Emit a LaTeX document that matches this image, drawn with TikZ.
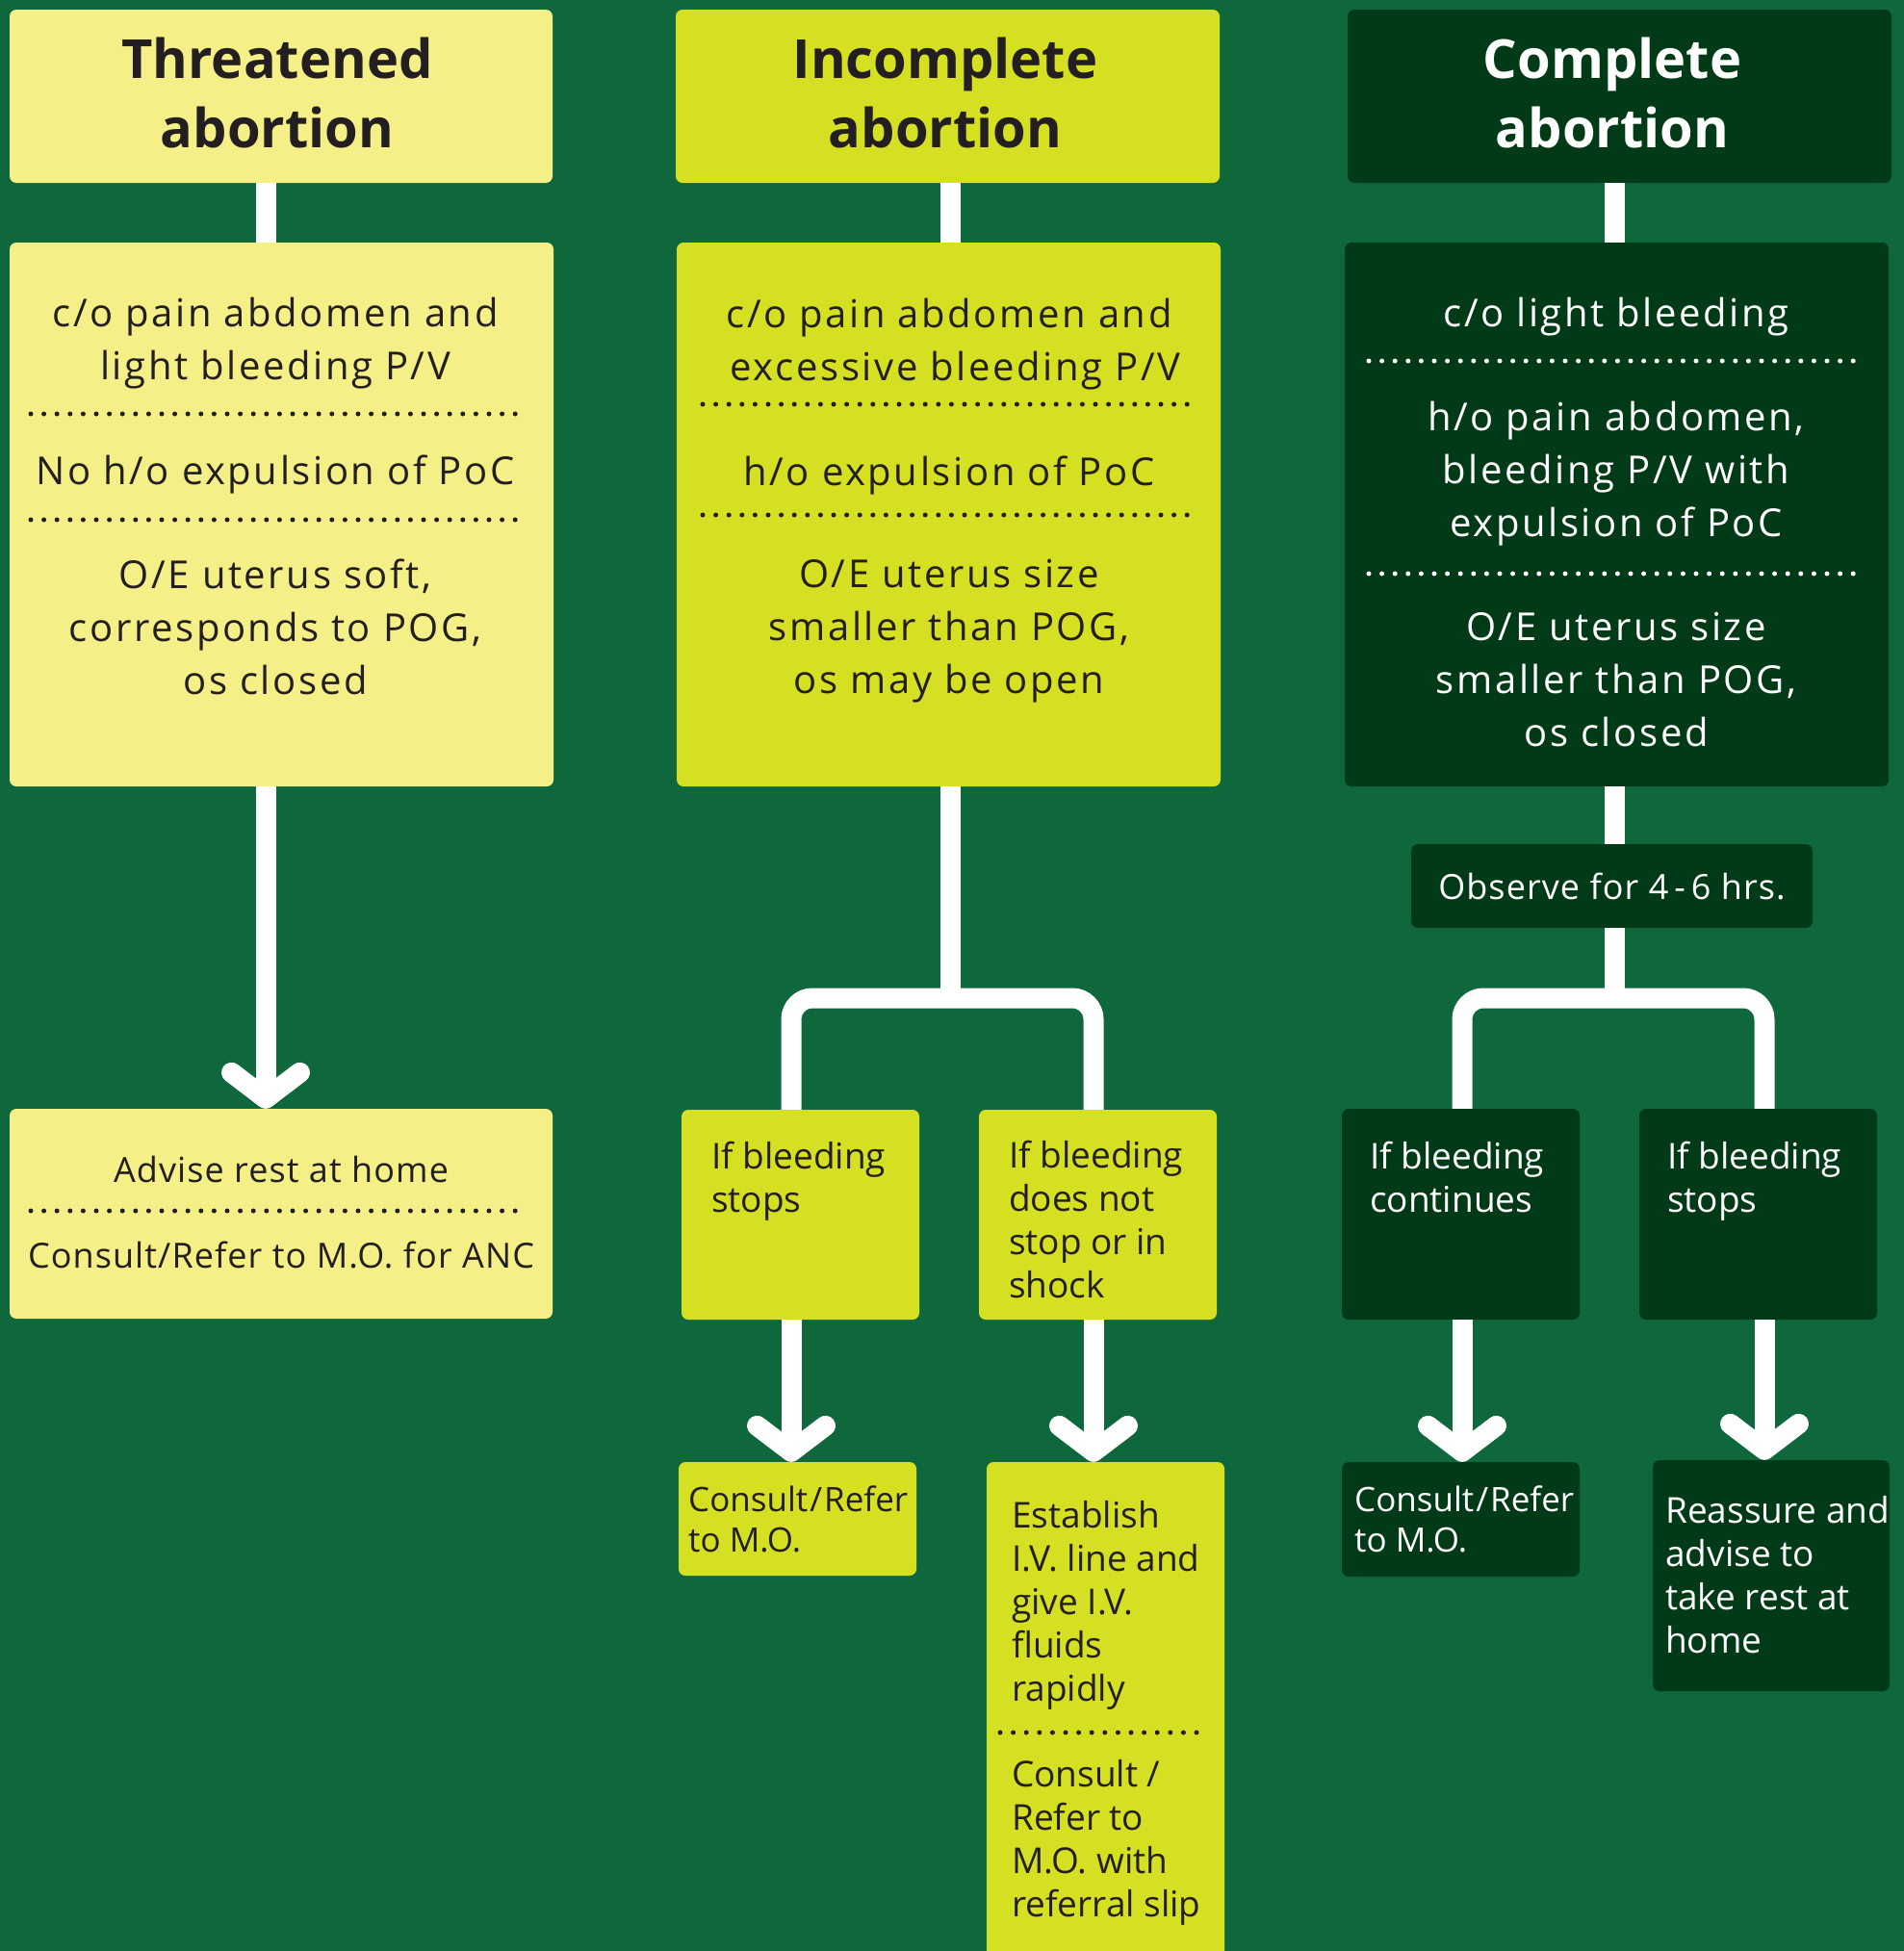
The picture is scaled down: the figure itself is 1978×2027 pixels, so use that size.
\documentclass[tikz,border=0pt]{standalone}
\usepackage{fontspec}
\setmainfont{Open Sans}
\newfontfamily\trackedfont[LetterSpace=6.5]{Open Sans}
\newfontfamily\slighttrack[LetterSpace=3]{Open Sans}
\usetikzlibrary{arrows.meta}

\definecolor{bggreen}{RGB}{15,103,60}
\definecolor{paleyellow}{RGB}{244,239,134}
\definecolor{lime}{RGB}{214,224,34}
\definecolor{darkgreen}{RGB}{0,58,22}
\definecolor{ink}{RGB}{35,31,32}

\tikzset{
  panel/.style={fill=#1, rounded corners=7pt, inner sep=0pt},
  headtext/.style={font=\bfseries\fontsize{56}{72}\selectfont, align=center},
  bodytext/.style={font=\trackedfont\fontsize{40}{55}\selectfont, align=center, anchor=base, inner sep=0pt},
  smalltext/.style={font=\fontsize{37}{45}\selectfont, align=left, anchor=base west, inner sep=0pt},
  link/.style={draw=white, line width=21pt},
  arrowlink/.style={link, -{Straight Barb[round, length=27pt, width=71pt]}},
  dotrule/.style={line width=5pt, line cap=round, dash pattern=on 0pt off 13.6pt},
}

\begin{document}
\begin{tikzpicture}[x=1pt, y=-1pt]
  \useasboundingbox (0,0) rectangle (1978,2027);
  \fill[bggreen] (0,0) rectangle (1978,2027);

  % column coordinates for the connectors
  \coordinate (c1) at (276,0);
  \coordinate (c2) at (987,0);
  \coordinate (c3) at (1677,0);
  \coordinate (l2) at (822,0);
  \coordinate (r2) at (1136,0);
  \coordinate (l3) at (1519,0);
  \coordinate (r3) at (1833,0);
  \coordinate (j2) at (987,1037);
  \coordinate (j3) at (1677,1037);

  % titles
  \node[panel=paleyellow, minimum width=564pt, minimum height=180pt] (t1) at (292,100) {};
  \node[panel=lime, minimum width=565pt, minimum height=180pt] (t2) at (984.5,100) {};
  \node[panel=darkgreen, minimum width=565pt, minimum height=180pt] (t3) at (1682.5,100) {};
  \node[headtext, text=ink, anchor=base] (t1a) at (288,153) {Threatened\\abortion};
  \node[headtext, text=ink, anchor=base] (t2a) at (982,153) {Incomplete\\abortion};
  \node[headtext, text=white, anchor=base] (t3a) at (1675,153) {Complete\\abortion};

  % symptom boxes
  \node[panel=paleyellow, minimum width=565pt, minimum height=565pt] (s1) at (292.5,534.5) {};
  \node[panel=lime, minimum width=565pt, minimum height=565pt] (s2) at (985.5,534.5) {};
  \node[panel=darkgreen, minimum width=565pt, minimum height=565pt] (s3) at (1679.5,534.5) {};

  % base anchor = last line
  \node[bodytext, text=ink] (s1a) at (286,394) {c/o pain abdomen and\\light bleeding P/V};
  \draw[dotrule, ink] (32,430) -- (539,430);
  \node[bodytext, text=ink] (s1b) at (286,503) {No h/o expulsion of PoC};
  \draw[dotrule, ink] (32,540) -- (539,540);
  \node[bodytext, text=ink] (s1c) at (286,721) {O/E uterus soft,\\corresponds to POG,\\os closed};

  \node[bodytext, text=ink] (s2a) at (986,395) {c/o pain abdomen and\\\ excessive bleeding P/V};
  \draw[dotrule, ink] (730,420) -- (1237,420);
  \node[bodytext, text=ink] (s2b) at (986,504) {h/o expulsion of PoC};
  \draw[dotrule, ink] (730,535) -- (1237,535);
  \node[bodytext, text=ink] (s2c) at (986,720) {O/E uterus size\\smaller than POG,\\os may be open};

  \node[bodytext, text=white] (s3a) at (1679,339) {c/o light bleeding};
  \draw[dotrule, white] (1422,375) -- (1929,375);
  \node[bodytext, text=white] (s3b) at (1679,557) {h/o pain abdomen,\\bleeding P/V with\\expulsion of PoC};
  \draw[dotrule, white] (1422,596) -- (1929,596);
  \node[bodytext, text=white] (s3c) at (1679,775) {O/E uterus size\\smaller than POG,\\os closed};

  % threatened: advice
  \node[panel=paleyellow, minimum width=564pt, minimum height=218pt] (a1) at (292,1261) {};
  \node[bodytext, font=\slighttrack\fontsize{36}{45}\selectfont, text=ink] (a1a) at (292,1228) {Advise rest at home};
  \draw[dotrule, ink] (32,1258) -- (539,1258);
  \node[bodytext, font=\slighttrack\fontsize{36}{45}\selectfont, text=ink] (a1b) at (292,1317) {Consult/Refer to M.O. for ANC};

  % incomplete: branches
  \node[panel=lime, minimum width=247pt, minimum height=218pt] (l2a) at (831.5,1262) {};
  \node[panel=lime, minimum width=247pt, minimum height=218pt] (r2a) at (1140.5,1262) {};
  \node[panel=lime, minimum width=247pt, minimum height=118pt] (l2b) at (828.5,1578) {};
  \node[panel=lime, minimum width=247pt, minimum height=521pt] (r2b) at (1148.5,1779.5) {};

  \node[smalltext, text=ink] at (739,1259) {If bleeding\\stops};
  \node[smalltext, text=ink] at (1048,1348) {If bleeding\\does not\\stop or in\\shock};
  \node[smalltext, font=\fontsize{35}{42}\selectfont, text=ink] at (715,1612) {Consult\kern2pt/\kern2pt Refer\\to M.O.};
  \node[smalltext, text=ink] at (1051,1767) {Establish\\I.V. line and\\give I.V.\\fluids\\rapidly};
  \draw[dotrule, ink] (1039,1800) -- (1253,1800);
  \node[smalltext, text=ink] at (1051,1991) {Consult /\\Refer to\\M.O. with\\referral slip};

  % complete: observe and branches
  \node[panel=darkgreen, minimum width=417pt, minimum height=87pt, font=\slighttrack\fontsize{36}{42}\selectfont, text=white] (o3) at (1674.5,920.5) {Observe for 4\,-\,6 hrs.};
  \node[panel=darkgreen, minimum width=247pt, minimum height=219pt] (l3a) at (1517.5,1261.5) {};
  \node[panel=darkgreen, minimum width=247pt, minimum height=219pt] (r3a) at (1826.5,1261.5) {};
  \node[panel=darkgreen, minimum width=247pt, minimum height=119pt] (l3b) at (1517.5,1578.5) {};
  \node[panel=darkgreen, minimum width=246pt, minimum height=240pt] (r3b) at (1840,1637) {};

  \node[smalltext, text=white] at (1423,1259) {If bleeding\\continues};
  \node[smalltext, text=white] at (1732,1259) {If bleeding\\stops};
  \node[smalltext, font=\fontsize{35}{42}\selectfont, text=white] at (1407,1612) {Consult\kern2pt/\kern2pt Refer\\to M.O.};
  \node[smalltext, text=white] at (1730,1717) {Reassure and\\advise to\\take rest at\\home};

  % connectors
  \draw[link] (t1.south -| c1) -- (s1.north -| c1);
  \draw[arrowlink] (s1.south -| c1) -- (a1.north -| c1);

  \draw[link] (t2.south -| c2) -- (s2.north -| c2);
  \draw[link] (s2.south -| c2) -- (j2);
  \draw[link, rounded corners=22pt] (l2a.north -| l2) |- (j2) -| (r2a.north -| r2);
  \draw[arrowlink] (l2a.south -| l2) -- (l2b.north -| l2);
  \draw[arrowlink] (r2a.south -| r2) -- (r2b.north -| r2);

  \draw[link] (t3.south -| c3) -- (s3.north -| c3);
  \draw[link] (s3.south -| c3) -- (o3.north -| c3);
  \draw[link] (o3.south -| c3) -- (j3);
  \draw[link, rounded corners=22pt] (l3a.north -| l3) |- (j3) -| (r3a.north -| r3);
  \draw[arrowlink] (l3a.south -| l3) -- (l3b.north -| l3);
  \draw[arrowlink] (r3a.south -| r3) -- (r3b.north -| r3);
\end{tikzpicture}
\end{document}
